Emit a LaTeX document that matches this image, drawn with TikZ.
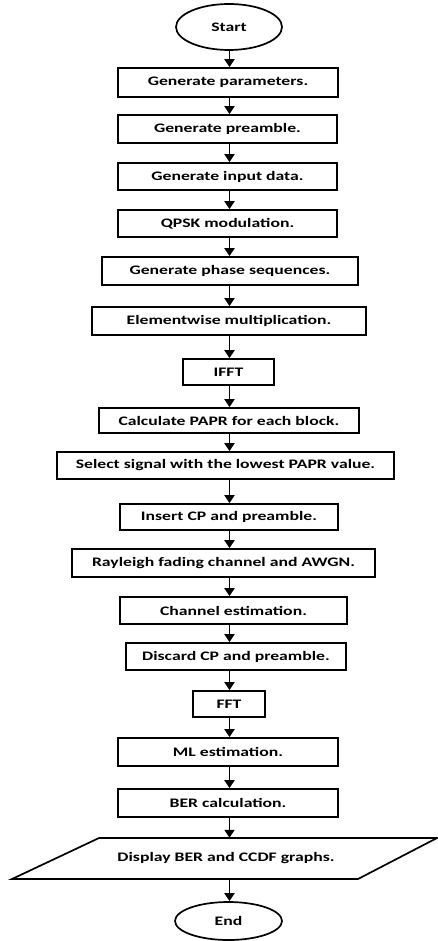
\documentclass[tikz,border=0pt]{standalone}
\usepackage{fontspec}
\newfontfamily\lbl{Carlito}[FakeStretch=1.36]
\usetikzlibrary{arrows.meta,shapes.geometric}
\begin{document}
\begin{tikzpicture}[x=1pt,y=-1pt,
  box/.style={draw,line width=1.7pt,inner sep=0pt,font=\lbl\bfseries\fontsize{13}{15}\selectfont},
  term/.style={draw,ellipse,line width=1.7pt,inner sep=0pt,font=\lbl\bfseries\fontsize{13}{15}\selectfont},
  arr/.style={line width=1.9pt,-{Triangle[width=10pt,length=8pt]}}]
\useasboundingbox (0,0) rectangle (437,941);
\coordinate (spine) at (229.5,0);
\node[term,minimum width=106,minimum height=46] (start) at (229,27) {Start};
\node[box,minimum width=220,minimum height=29] (b1) at (228,82.5) {Generate parameters.};
\node[box,minimum width=219,minimum height=28] (b2) at (227.5,129) {Generate preamble.};
\node[box,minimum width=219,minimum height=27] (b3) at (227.5,176.5) {Generate input data.};
\node[box,minimum width=219,minimum height=27] (b4) at (227.5,223.5) {QPSK modulation.};
\node[box,minimum width=256,minimum height=28] (b5) at (230,271) {Generate phase sequences.};
\node[box,minimum width=274,minimum height=28] (b6) at (229,321) {Elementwise multiplication.};
\node[box,minimum width=91,minimum height=26] (b7) at (228.5,372) {IFFT};
\node[box,minimum width=260,minimum height=25] (b8) at (229,420.5) {Calculate PAPR for each block.};
\node[box,minimum width=337,minimum height=27] (b9) at (225.5,465.5) {Select signal with the lowest PAPR value.};
\node[box,minimum width=218,minimum height=26] (b10) at (229,517) {Insert CP and preamble.};
\node[box,minimum width=303,minimum height=28] (b11) at (223.5,563) {Rayleigh fading channel and AWGN.};
\node[box,minimum width=227,minimum height=27] (b12) at (233.5,610.5) {Channel estimation.};
\node[box,minimum width=220,minimum height=27] (b13) at (236,656.5) {Discard CP and preamble.};
\node[box,minimum width=72,minimum height=26] (b14) at (229,704) {FFT};
\node[box,minimum width=220,minimum height=28] (b15) at (228,752) {ML estimation.};
\node[box,minimum width=220,minimum height=28] (b16) at (228,803) {BER calculation.};
\draw[line width=1.7pt] (99,838) -- (437,838) -- (358,879) -- (12,879) -- cycle;
\node[font=\lbl\bfseries\fontsize{13}{15}\selectfont,minimum height=41,inner sep=0pt] (disp) at (226,858.5) {Display BER and CCDF graphs.};
\node[term,minimum width=107,minimum height=38] (end) at (228.5,921) {End};
\foreach \a/\b in {start/b1,b1/b2,b2/b3,b3/b4,b4/b5,b5/b6,b6/b7,b7/b8,b8/b9,b9/b10,b10/b11,b11/b12,b12/b13,b13/b14,b14/b15,b15/b16,b16/disp,disp/end}
  \draw[arr] (\a.south -| spine) -- (\b.north -| spine);
\end{tikzpicture}
\end{document}
